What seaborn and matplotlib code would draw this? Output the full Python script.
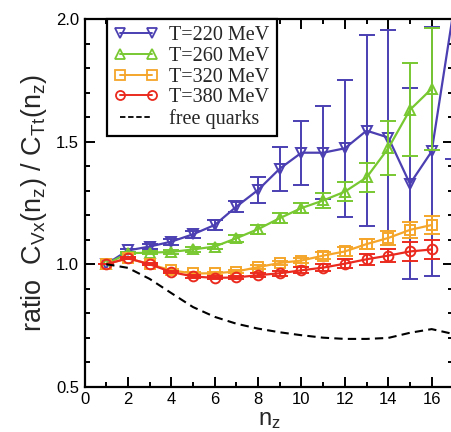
import matplotlib
matplotlib.use("Agg")
import matplotlib.pyplot as plt
from matplotlib.lines import Line2D
from matplotlib.ticker import MultipleLocator
import numpy as np
import pandas as pd
import seaborn as sns

# ratio C_Vx(n_z) / C_Tt(n_z) per temperature
nz_t220 = list(range(1, 18))
ratio_t220 = [1.0, 1.056, 1.072, 1.092, 1.122, 1.16, 1.235, 1.303, 1.39, 1.455,
              1.455, 1.473, 1.545, 1.517, 1.328, 1.46, 2.03]
err_t220 = [0.0, 0.008, 0.01, 0.012, 0.015, 0.02, 0.024, 0.054, 0.09, 0.13,
            0.19, 0.28, 0.39, 0.44, 0.39, 0.51, 0.6]

nz = list(range(1, 17))
ratio_t260 = [1.0, 1.045, 1.047, 1.05, 1.06, 1.072, 1.106, 1.143, 1.188, 1.229,
              1.26, 1.296, 1.354, 1.473, 1.63, 1.716]
err_t260 = [0.0, 0.005, 0.006, 0.008, 0.01, 0.012, 0.015, 0.018, 0.02, 0.022,
            0.03, 0.04, 0.06, 0.11, 0.19, 0.25]

ratio_t320 = [1.0, 1.024, 1.0, 0.975, 0.962, 0.963, 0.97, 0.988, 1.005, 1.015,
              1.035, 1.052, 1.082, 1.107, 1.14, 1.16]
err_t320 = [0.0, 0.004, 0.004, 0.005, 0.005, 0.006, 0.007, 0.008, 0.01, 0.012,
            0.014, 0.018, 0.022, 0.028, 0.032, 0.036]

ratio_t380 = [1.0, 1.024, 1.0, 0.968, 0.95, 0.944, 0.946, 0.955, 0.963, 0.975,
              0.986, 1.002, 1.02, 1.035, 1.052, 1.06]
err_t380 = [0.0, 0.004, 0.004, 0.005, 0.005, 0.006, 0.007, 0.008, 0.01, 0.012,
            0.014, 0.018, 0.022, 0.028, 0.04, 0.04]

nz_free = list(range(1, 18))
ratio_free = [1.0, 0.985, 0.94, 0.882, 0.825, 0.785, 0.757, 0.737, 0.722, 0.71,
              0.70, 0.695, 0.695, 0.699, 0.72, 0.735, 0.715]

labels = ["T=220 MeV", "T=260 MeV", "T=320 MeV", "T=380 MeV", "free quarks"]
colors = ["#4b3fb2", "#78c832", "#f5a62a", "#ea2a1e"]
markers = ["v", "^", "s", "o"]

sns.set_theme(style="ticks")
plt.rcParams["font.family"] = ["Liberation Sans", "DejaVu Sans"]
plt.rcParams["mathtext.fontset"] = "custom"
plt.rcParams["mathtext.rm"] = "Liberation Sans"
plt.rcParams["mathtext.it"] = "Liberation Sans"

fig = plt.figure(figsize=(4.52, 4.32), dpi=100)
ax = fig.add_axes([0.187, 0.1049, 0.816, 0.8507])

series = [
    (nz_t220, ratio_t220, err_t220),
    (nz, ratio_t260, err_t260),
    (nz, ratio_t320, err_t320),
    (nz, ratio_t380, err_t380),
]

for (x, y, e), c, m in zip(series, colors, markers):
    df = pd.DataFrame({"nz": x, "ratio": y})
    sns.lineplot(data=df, x="nz", y="ratio", ax=ax, color=c, lw=1.6,
                 marker=m, markersize=7, markerfacecolor="none",
                 markeredgecolor=c, markeredgewidth=1.4, legend=False)
    ax.errorbar(x, y, yerr=e, fmt="none", ecolor=c, elinewidth=1.4,
                capsize=5.5, capthick=1.4)

df_free = pd.DataFrame({"nz": nz_free, "ratio": ratio_free})
sns.lineplot(data=df_free, x="nz", y="ratio", ax=ax, color="black", lw=1.5,
             linestyle=(0, (4, 2.5)), legend=False)

ax.set_xlim(0, 17)
ax.set_ylim(0.5, 2.0)
ax.xaxis.set_major_locator(MultipleLocator(2))
ax.xaxis.set_minor_locator(MultipleLocator(1))
ax.yaxis.set_major_locator(MultipleLocator(0.5))
ax.yaxis.set_minor_locator(MultipleLocator(0.1))
ax.yaxis.set_major_formatter(matplotlib.ticker.FormatStrFormatter("%.1f"))
ax.tick_params(which="both", direction="in", top=True, right=True,
               width=1.4, colors="black", labelsize=12, pad=4)
ax.tick_params(which="major", length=7)
ax.tick_params(which="minor", length=3.5)
for s in ax.spines.values():
    s.set_linewidth(1.6)
    s.set_color("black")

ax.set_xlabel(r"n$_\mathrm{z}$", fontsize=17, labelpad=1)
ax.set_ylabel(r"ratio  C$_\mathrm{Vx}$(n$_\mathrm{z}$) / C$_\mathrm{Tt}$(n$_\mathrm{z}$)",
              fontsize=19.5, labelpad=5)

handles = [Line2D([0], [0], color=c, lw=1.4, marker=m, markersize=6.5,
                  markerfacecolor="none", markeredgecolor=c, markeredgewidth=1.3)
           for c, m in zip(colors, markers)]
handles.append(Line2D([0], [0], color="black", lw=1.3, linestyle=(0, (3, 1.5))))
leg = ax.legend(handles, labels, loc="upper left", bbox_to_anchor=(0.0607, 1.0),
                borderaxespad=0, numpoints=2, handlelength=2.2, handletextpad=0.55,
                labelspacing=0.08, borderpad=0.35, fancybox=False, frameon=True,
                prop={"family": "Liberation Serif", "size": 14.5})
leg.get_frame().set_edgecolor("black")
leg.get_frame().set_linewidth(1.6)
leg.get_frame().set_facecolor("white")
leg.get_frame().set_alpha(1)

fig.savefig("out.png", dpi=100)
